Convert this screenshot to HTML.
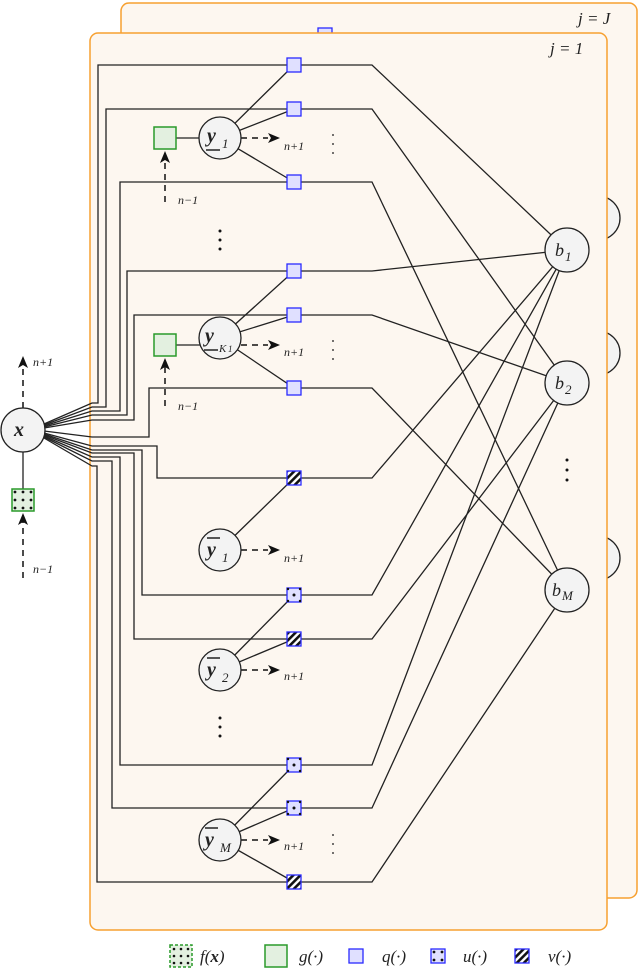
<!DOCTYPE html>
<html><head><meta charset="utf-8"><style>
html,body{margin:0;padding:0;background:#fff;}
svg{display:block;}
text{font-family:"Liberation Serif",serif;font-style:italic;fill:#222;}
</style></head><body>
<svg width="640" height="968" viewBox="0 0 640 968" xmlns="http://www.w3.org/2000/svg">
<defs>
<pattern id="stripe" width="5" height="5" patternUnits="userSpaceOnUse" patternTransform="rotate(45)">
<rect width="5" height="5" fill="#fff"/><rect width="2.6" height="5" fill="#111"/>
</pattern>
</defs>

<!-- back panel -->
<rect x="121" y="3" width="516" height="895" rx="8" fill="#fdf7f0" stroke="#f7a030" stroke-width="1.5"/>
<text x="578" y="24" font-size="17">j = J</text>
<rect x="318" y="28" width="14" height="14" fill="#e0e0ff" stroke="#2a2aff" stroke-width="1.3"/>
<circle cx="598" cy="218" r="22" fill="#f3f3f3" stroke="#222" stroke-width="1.3"/>
<circle cx="598" cy="353" r="22" fill="#f3f3f3" stroke="#222" stroke-width="1.3"/>
<circle cx="598" cy="558" r="22" fill="#f3f3f3" stroke="#222" stroke-width="1.3"/>

<!-- front panel -->
<rect x="90" y="33" width="517" height="897" rx="8" fill="#fdf7f0" stroke="#f7a030" stroke-width="1.5"/>
<text x="550" y="54" font-size="17">j = 1</text>

<g fill="none" stroke="#222" stroke-width="1.3">
<path d="M294 65 H98 V403 H92 L44 424"/>
<path d="M294 109 H106 V407 H92 L44 425"/>
<path d="M294 182 H120 V411 H92 L44 426"/>
<path d="M294 271 H127 V415 H92 L44 427"/>
<path d="M294 315 H134 V420 H92 L44 428"/>
<path d="M294 388 H149 V437 H92 L44 431"/>
<path d="M294 478 H157 V446 H92 L44 433"/>
<path d="M294 595 H142 V450 H92 L44 434"/>
<path d="M294 639 H134 V453 H92 L44 435"/>
<path d="M294 765 H120 V457 H92 L44 436"/>
<path d="M294 808 H112 V461 H92 L44 437"/>
<path d="M294 882 H97 V466 H92 L44 438"/>
<path d="M294 65 H372 L567 250"/>
<path d="M294 109 H372 L567 383"/>
<path d="M294 182 H372 L567 590"/>
<path d="M294 271 H372 L567 250"/>
<path d="M294 315 H372 L567 383"/>
<path d="M294 388 H372 L567 590"/>
<path d="M294 478 H372 L567 250"/>
<path d="M294 595 H372 L567 250"/>
<path d="M294 639 H372 L567 383"/>
<path d="M294 765 H372 L567 250"/>
<path d="M294 808 H372 L567 383"/>
<path d="M294 882 H372 L567 590"/>
<path d="M220 138 L294 65 M220 138 L294 109 M220 138 L294 182"/>
<path d="M220 338 L294 271 M220 338 L294 315 M220 338 L294 388"/>
<path d="M220 550 L294 478"/>
<path d="M220 670 L294 595 M220 670 L294 639"/>
<path d="M220 840 L294 765 M220 840 L294 808 M220 840 L294 882"/>
<path d="M165 138 H200 M165 345 H200"/>
<path d="M23 430 V500"/>
</g>

<g fill="none" stroke="#111" stroke-width="1.5" stroke-dasharray="6,5">
<path d="M241 138 H268"/><path d="M241 345 H268"/><path d="M241 550 H268"/><path d="M241 670 H268"/><path d="M241 840 H268"/>
<path d="M165 202 V158"/><path d="M165 406 V365"/>
<path d="M23 408 V365"/><path d="M23 578 V520"/>
</g>
<g fill="#111">
<path d="M280 138 l-12 -5 l3 5 l-3 5z"/><path d="M280 345 l-12 -5 l3 5 l-3 5z"/><path d="M280 550 l-12 -5 l3 5 l-3 5z"/><path d="M280 670 l-12 -5 l3 5 l-3 5z"/><path d="M280 840 l-12 -5 l3 5 l-3 5z"/>
<path d="M165 151 l-5 12 l5 -3 l5 3z"/><path d="M165 358 l-5 12 l5 -3 l5 3z"/>
<path d="M23 356 l-5 12 l5 -3 l5 3z"/><path d="M23 513 l-5 12 l5 -3 l5 3z"/>
</g>

<g stroke="#2a2aff" stroke-width="1.3">
<rect x="287" y="58" width="14" height="14" fill="#e0e0ff"/>
<rect x="287" y="102" width="14" height="14" fill="#e0e0ff"/>
<rect x="287" y="175" width="14" height="14" fill="#e0e0ff"/>
<rect x="287" y="264" width="14" height="14" fill="#e0e0ff"/>
<rect x="287" y="308" width="14" height="14" fill="#e0e0ff"/>
<rect x="287" y="381" width="14" height="14" fill="#e0e0ff"/>
<rect x="287" y="471" width="14" height="14" fill="url(#stripe)"/>
<rect x="287" y="588" width="14" height="14" fill="#e0e0ff"/>
<rect x="287" y="632" width="14" height="14" fill="url(#stripe)"/>
<rect x="287" y="758" width="14" height="14" fill="#e0e0ff"/>
<rect x="287" y="801" width="14" height="14" fill="#e0e0ff"/>
<rect x="287" y="875" width="14" height="14" fill="url(#stripe)"/>
</g>
<g fill="#111">
<circle cx="294" cy="595" r="1.5"/><circle cx="288" cy="589" r="1.2"/><circle cx="300" cy="589" r="1.2"/><circle cx="288" cy="601" r="1.2"/><circle cx="300" cy="601" r="1.2"/>
<circle cx="294" cy="765" r="1.5"/><circle cx="288" cy="759" r="1.2"/><circle cx="300" cy="759" r="1.2"/><circle cx="288" cy="771" r="1.2"/><circle cx="300" cy="771" r="1.2"/>
<circle cx="294" cy="808" r="1.5"/><circle cx="288" cy="802" r="1.2"/><circle cx="300" cy="802" r="1.2"/><circle cx="288" cy="814" r="1.2"/><circle cx="300" cy="814" r="1.2"/>
</g>

<g stroke="#2a9a2a" stroke-width="1.5" fill="#e3f0e0">
<rect x="154" y="127" width="22" height="22"/>
<rect x="154" y="334" width="22" height="22"/>
<rect x="12" y="489" width="22" height="22"/>
</g>
<g fill="#111">
<circle cx="15" cy="492" r="1.4"/><circle cx="23" cy="492" r="1.4"/><circle cx="31" cy="492" r="1.4"/>
<circle cx="15" cy="500" r="1.4"/><circle cx="23" cy="500" r="1.4"/><circle cx="31" cy="500" r="1.4"/>
<circle cx="15" cy="508" r="1.4"/><circle cx="23" cy="508" r="1.4"/><circle cx="31" cy="508" r="1.4"/>
</g>

<g fill="#f3f3f3" stroke="#222" stroke-width="1.3">
<circle cx="23" cy="430" r="22"/>
<circle cx="220" cy="138" r="21"/>
<circle cx="220" cy="338" r="21"/>
<circle cx="220" cy="550" r="21"/>
<circle cx="220" cy="670" r="21"/>
<circle cx="220" cy="840" r="21"/>
<circle cx="567" cy="250" r="22"/>
<circle cx="567" cy="383" r="22"/>
<circle cx="567" cy="590" r="22"/>
</g>
<g font-size="20" font-weight="bold">
<text x="14" y="436">x</text>
<text x="207" y="142">y</text>
<text x="205" y="342">y</text>
<text x="207" y="556">y</text>
<text x="207" y="676">y</text>
<text x="205" y="846">y</text>
</g>
<g font-size="13" font-style="normal">
<text x="222" y="148">1</text>
<text x="222" y="562">1</text>
<text x="222" y="682">2</text>
</g>
<text x="219" y="352" font-size="11">K</text><text x="228" y="352" font-size="9" font-style="normal">1</text>
<text x="220" y="852" font-size="13">M</text>
<g stroke="#222" stroke-width="1.5">
<path d="M206 150 H220 M204 350 H218 M207 538 H220 M207 658 H220 M205 828 H218"/>
</g>
<g font-size="18">
<text x="555" y="256">b</text><text x="565" y="261" font-size="13" font-style="normal">1</text>
<text x="555" y="389">b</text><text x="565" y="394" font-size="13" font-style="normal">2</text>
<text x="552" y="596">b</text><text x="562" y="600" font-size="13">M</text>
</g>

<g font-size="12">
<text x="284" y="150">n+1</text><text x="284" y="356">n+1</text><text x="284" y="562">n+1</text><text x="284" y="680">n+1</text><text x="284" y="850">n+1</text>
<text x="178" y="204">n−1</text><text x="178" y="410">n−1</text>
<text x="33" y="366">n+1</text><text x="33" y="573">n−1</text>
</g>
<g fill="#111">
<circle cx="333" cy="135" r="0.9"/><circle cx="333" cy="144" r="0.9"/><circle cx="333" cy="153" r="0.9"/>
<circle cx="333" cy="341" r="0.9"/><circle cx="333" cy="350" r="0.9"/><circle cx="333" cy="359" r="0.9"/>
<circle cx="333" cy="835" r="0.9"/><circle cx="333" cy="844" r="0.9"/><circle cx="333" cy="853" r="0.9"/>
<circle cx="220" cy="231" r="1.5"/><circle cx="220" cy="240" r="1.5"/><circle cx="220" cy="249" r="1.5"/>
<circle cx="220" cy="718" r="1.5"/><circle cx="220" cy="727" r="1.5"/><circle cx="220" cy="736" r="1.5"/>
<circle cx="567" cy="460" r="1.5"/><circle cx="567" cy="470" r="1.5"/><circle cx="567" cy="480" r="1.5"/>
</g>

<rect x="170" y="945" width="22" height="22" fill="#e3f0e0" stroke="#2a9a2a" stroke-width="1.5" stroke-dasharray="3,2"/>
<g fill="#111">
<circle cx="174" cy="949" r="1.3"/><circle cx="181" cy="949" r="1.3"/><circle cx="188" cy="949" r="1.3"/>
<circle cx="174" cy="956" r="1.3"/><circle cx="181" cy="956" r="1.3"/><circle cx="188" cy="956" r="1.3"/>
<circle cx="174" cy="963" r="1.3"/><circle cx="181" cy="963" r="1.3"/><circle cx="188" cy="963" r="1.3"/>
</g>
<text x="200" y="962" font-size="17">f(<tspan font-weight="bold">x</tspan>)</text>
<rect x="265" y="945" width="22" height="22" fill="#e3f0e0" stroke="#2a9a2a" stroke-width="1.5"/>
<text x="299" y="962" font-size="17">g(·)</text>
<rect x="349" y="949" width="14" height="14" fill="#e0e0ff" stroke="#2a2aff" stroke-width="1.3"/>
<text x="382" y="962" font-size="17">q(·)</text>
<rect x="431" y="949" width="14" height="14" fill="#e0e0ff" stroke="#2a2aff" stroke-width="1.3"/>
<g fill="#111"><circle cx="434" cy="952" r="1.4"/><circle cx="442" cy="952" r="1.4"/><circle cx="434" cy="960" r="1.4"/><circle cx="442" cy="960" r="1.4"/></g>
<text x="463" y="962" font-size="17">u(·)</text>
<rect x="515" y="949" width="14" height="14" fill="url(#stripe)" stroke="#2a2aff" stroke-width="1.3"/>
<text x="548" y="962" font-size="17">v(·)</text>
</svg>
</body></html>
